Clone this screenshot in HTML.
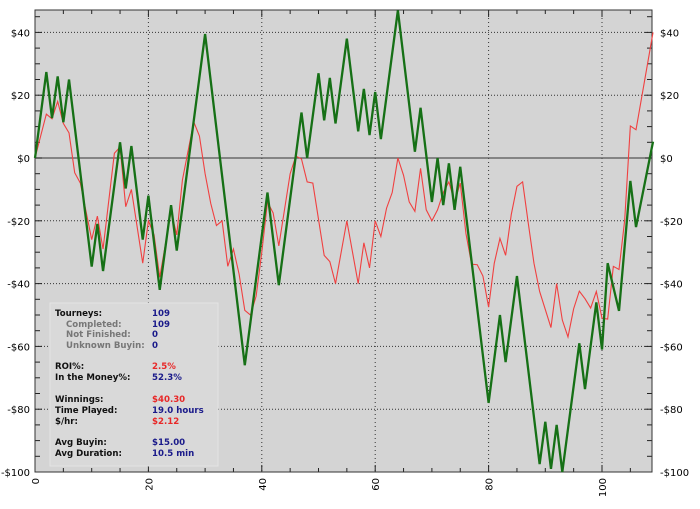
<!DOCTYPE html>
<html><head><meta charset="utf-8">
<style>
body{margin:0;background:#fff;width:700px;height:509px;overflow:hidden}
svg{display:block;font-family:"DejaVu Sans","Liberation Sans",sans-serif}
</style></head>
<body>
<svg id="chart" width="700" height="509" viewBox="0 0 700 509"></svg>
<script>
const greenX=[0,2,3,4,5,6,10,11,12,15,16,17,19,20,22,24,25,30,37,41,43,47,48,50,51,52,53,55,57,58,59,60,61,64,67,68,70,71,72,73,74,75,80,82,83,85,89,90,91,92,93,96,97,99,100,101,103,105,106,109];
const greenY=[0,27.4,12.7,26,11.4,25,-34.6,-21,-36,5,-9.7,3.8,-26,-12,-42,-15,-29.5,39.5,-66,-11,-40.5,14.5,0,27,12,25.5,11,38,8.5,22,7.3,21,6,47,2,16,-14,0,-15,-1.7,-16.5,-2.8,-78,-50,-65,-37.6,-97.5,-84,-99,-85,-100,-59,-73.6,-46,-61,-33.5,-48.7,-7.3,-22,5.2];
const redX=[0,1,2,3,4,5,6,7,8,10,11,12,14,15,16,17,19,20,21,22,24,25,26,28,29,30,31,32,33,34,35,36,37,38,39,40,41,42,43,45,46,47,48,49,51,52,53,55,57,58,59,60,61,62,63,64,65,66,67,68,69,70,71,72,73,74,75,76,77,78,79,80,81,82,83,84,85,86,87,88,89,91,92,93,94,95,96,97,98,99,100,101,102,103,104,105,106,109];
const redY=[0,7,14,12.5,18,11,8,-4.7,-8,-26,-18.5,-29,1.5,3.5,-15.5,-10,-33.5,-20,-24.5,-38,-17,-24.5,-7,11.5,7,-5,-14.5,-21.5,-20,-34.5,-29,-37,-48.5,-50,-44,-30,-14,-17.5,-28,-5,0.6,-0.3,-7.6,-8,-31,-33,-40,-20,-40,-27,-35,-20,-25,-16,-11,0,-5.5,-14,-17,-3.3,-16.5,-20,-16.5,-11,-7.6,-14,-8,-24,-33.8,-34,-37.6,-47.5,-33.5,-25.6,-31,-18,-9,-7.6,-20.8,-33.5,-42.5,-54,-40,-51.6,-57,-48,-42.4,-44.8,-47.8,-42.5,-51,-51.3,-34.5,-35.5,-19.8,10.2,9,40];
const yTicks=[40,20,0,-20,-40,-60,-80,-100];
const yLabels=["$40","$20","$0","-$20","-$40","-$60","-$80","-$100"];
const xTicks=[0,20,40,60,80,100];

const L=35,R=652,T=10,B=472;
const sx=t=>L+t*5.67;
const sy=v=>158-v*3.14;
const NS="http://www.w3.org/2000/svg";
const svg=document.getElementById('chart');
function mk(tag,attrs,parent){const e=document.createElementNS(NS,tag);for(const k in attrs)e.setAttribute(k,attrs[k]);(parent||svg).appendChild(e);return e;}

const bg=mk('rect',{x:L,y:T,width:R-L,height:B-T,fill:'#d4d4d4'});



for(const v of yTicks){if(v===0)continue;const g=mk('line',{x1:L,x2:R,y1:sy(v),y2:sy(v),stroke:'#333','stroke-width':1,'stroke-dasharray':'1,2'});

}
for(const t of xTicks){if(t===0)continue;const g=mk('line',{x1:sx(t),x2:sx(t),y1:T,y2:B,stroke:'#333','stroke-width':1,'stroke-dasharray':'1,3'});

}
const z=mk('line',{x1:L,x2:R,y1:sy(0),y2:sy(0),stroke:'#555','stroke-width':1.3});



for(let v=45;v>=-100;v-=5){const y=sy(v);const big=v%20===0;
mk('line',{x1:L,x2:L+(big?7:5),y1:y,y2:y,stroke:'#222'});mk('line',{x1:R-(big?7:5),x2:R,y1:y,y2:y,stroke:'#222'});}
for(let t=0;t<=109;t+=5){const x=sx(t);const big=t%20===0;
mk('line',{x1:x,x2:x,y1:T,y2:T+(big?7:4),stroke:'#222'});mk('line',{x1:x,x2:x,y1:B-(big?7:4),y2:B,stroke:'#222'});}

const fr=mk('rect',{x:L,y:T,width:R-L,height:B-T,fill:'none',stroke:'#333','stroke-width':1});



yTicks.forEach((v,i)=>{
 const a=mk('text',{x:30,y:sy(v)+4,'text-anchor':'end','font-size':10,fill:'#000'});a.textContent=yLabels[i];
 
 
 const b=mk('text',{x:660,y:sy(v)+4,'text-anchor':'start','font-size':10,fill:'#000'});b.textContent=yLabels[i];
 
 
});
xTicks.forEach(t=>{
 const a=mk('text',{x:0,y:0,'text-anchor':'end','font-size':10,fill:'#000',transform:`translate(${sx(t)+4},${B+6}) rotate(-90)`});a.textContent=String(t);
 
 
});

const rp=mk('polyline',{points:redX.map((t,i)=>sx(t)+','+sy(redY[i])).join(' '),fill:'none',stroke:'#f04040','stroke-width':1.1});


const gp=mk('polyline',{points:greenX.map((t,i)=>sx(t)+','+sy(greenY[i])).join(' '),fill:'none',stroke:'#167016','stroke-width':2.3,'stroke-linejoin':'miter'});



const box=mk('rect',{x:50,y:303,width:168,height:163,fill:'#d9d9d9',stroke:'#e4e4e4','stroke-width':1});


const rows=[
["Tourneys:","109",313,55,'#111','#1a1a8a'],
["Completed:","109",324,66,'#777','#1a1a8a'],
["Not Finished:","0",334,66,'#777','#1a1a8a'],
["Unknown Buyin:","0",345,66,'#777','#1a1a8a'],
["ROI%:","2.5%",366,55,'#111','#e82828'],
["In the Money%:","52.3%",377,55,'#111','#1a1a8a'],
["Winnings:","$40.30",399,55,'#111','#e82828'],
["Time Played:","19.0 hours",410,55,'#111','#1a1a8a'],
["$/hr:","$2.12",421,55,'#111','#e82828'],
["Avg Buyin:","$15.00",442,55,'#111','#1a1a8a'],
["Avg Duration:","10.5 min",453,55,'#111','#1a1a8a']];
rows.forEach(r=>{
 const a=mk('text',{x:r[3],y:r[2]+3,'font-size':8.6,'font-weight':'bold',fill:r[4]});a.textContent=r[0];
 
 
 const b=mk('text',{x:152,y:r[2]+3,'font-size':8.6,'font-weight':'bold',fill:r[5]});b.textContent=r[1];
 
 
});
</script>
</body></html>
